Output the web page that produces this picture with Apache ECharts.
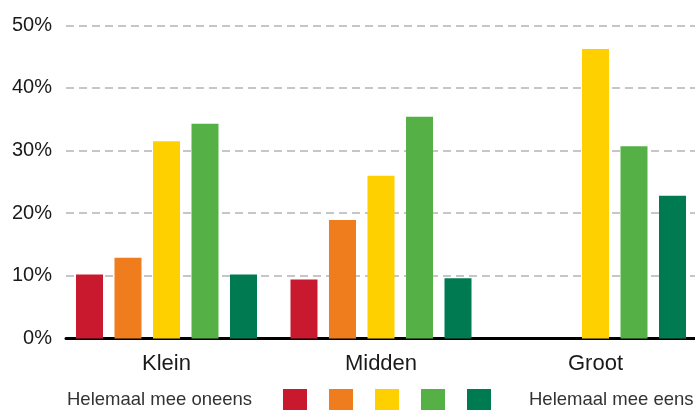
<!DOCTYPE html>
<html>
<head>
<meta charset="utf-8">
<script src="https://cdn.jsdelivr.net/npm/echarts@6/dist/echarts.min.js"></script>
<style>html,body{margin:0;padding:0;background:#fff}#c{width:695px;height:410px}</style>
</head>
<body>
<div id="c"></div>
<script>
const categories = ['Klein', 'Midden', 'Groot'];
const seriesNames = ['Helemaal mee oneens', 'Oneens', 'Neutraal', 'Eens', 'Helemaal mee eens'];
const helemaalOneens = [10.2, 9.4, 0];
const oneens = [12.9, 18.9, 0];
const neutraal = [31.5, 26.0, 46.2];
const eens = [34.3, 35.4, 30.7];
const helemaalEens = [10.2, 9.6, 22.8];
const yTicks = [0, 10, 20, 30, 40, 50];
const legendLeftText = 'Helemaal mee oneens';
const legendRightText = 'Helemaal mee eens';
const colors = ['#C8192E', '#EF7D1E', '#FFD000', '#55B146', '#007A50'];

const values = [helemaalOneens, oneens, neutraal, eens, helemaalEens];
const FONT = 'Liberation Sans';
const chart = echarts.init(document.getElementById('c'));
const gTop = 25.3, gBottom = 410 - 338.5;
chart.setOption({
  animation: false,
  textStyle: { fontFamily: FONT },
  grid: [
    { left: 66, right: 0, top: gTop, bottom: gBottom, outerBoundsMode: 'none' },
    { left: 59.25, right: -7.75, top: gTop, bottom: gBottom, outerBoundsMode: 'none', containLabel: false }
  ],
  xAxis: [
    { gridIndex: 0, type: 'value', min: 0, max: 1, axisLabel: { show: false }, axisTick: { show: false }, splitLine: { show: false },
      axisLine: { show: true, lineStyle: { color: '#000', width: 3 } } },
    { gridIndex: 1, type: 'category', data: categories, axisLine: { show: false }, axisTick: { show: false },
      axisLabel: { color: '#1a1a1a', fontSize: 22, fontFamily: FONT, margin: 14 } }
  ],
  yAxis: [
    { gridIndex: 0, type: 'value', min: yTicks[0], max: yTicks[yTicks.length - 1], interval: 10,
      axisLine: { show: false }, axisTick: { show: false },
      axisLabel: { color: '#1a1a1a', fontSize: 20, fontFamily: FONT, margin: 14, formatter: v => v + '%' },
      splitLine: { show: true, lineStyle: { color: '#b4b4b4', width: 1.5, type: [8, 5] } } },
    { gridIndex: 1, type: 'value', min: 0, max: 50, show: false, splitLine: { show: false } }
  ],
  legend: {
    left: 283, top: 389, padding: 0, itemWidth: 24, itemHeight: 22, itemGap: 22, icon: 'rect',
    formatter: () => '', textStyle: { fontSize: 1 },
    data: seriesNames
  },
  graphic: [
    { type: 'text', left: 67, top: 390, style: { text: legendLeftText, fontSize: 18.5, fontFamily: FONT, fill: '#333' } },
    { type: 'text', left: 529, top: 390, style: { text: legendRightText, fontSize: 18.5, fontFamily: FONT, fill: '#333' } }
  ],
  series: seriesNames.map((n, i) => ({
    name: n, type: 'bar', xAxisIndex: 1, yAxisIndex: 1,
    data: values[i], barWidth: 27, barGap: '42.6%',
    itemStyle: { color: colors[i] }
  }))
});
</script>
</body>
</html>
